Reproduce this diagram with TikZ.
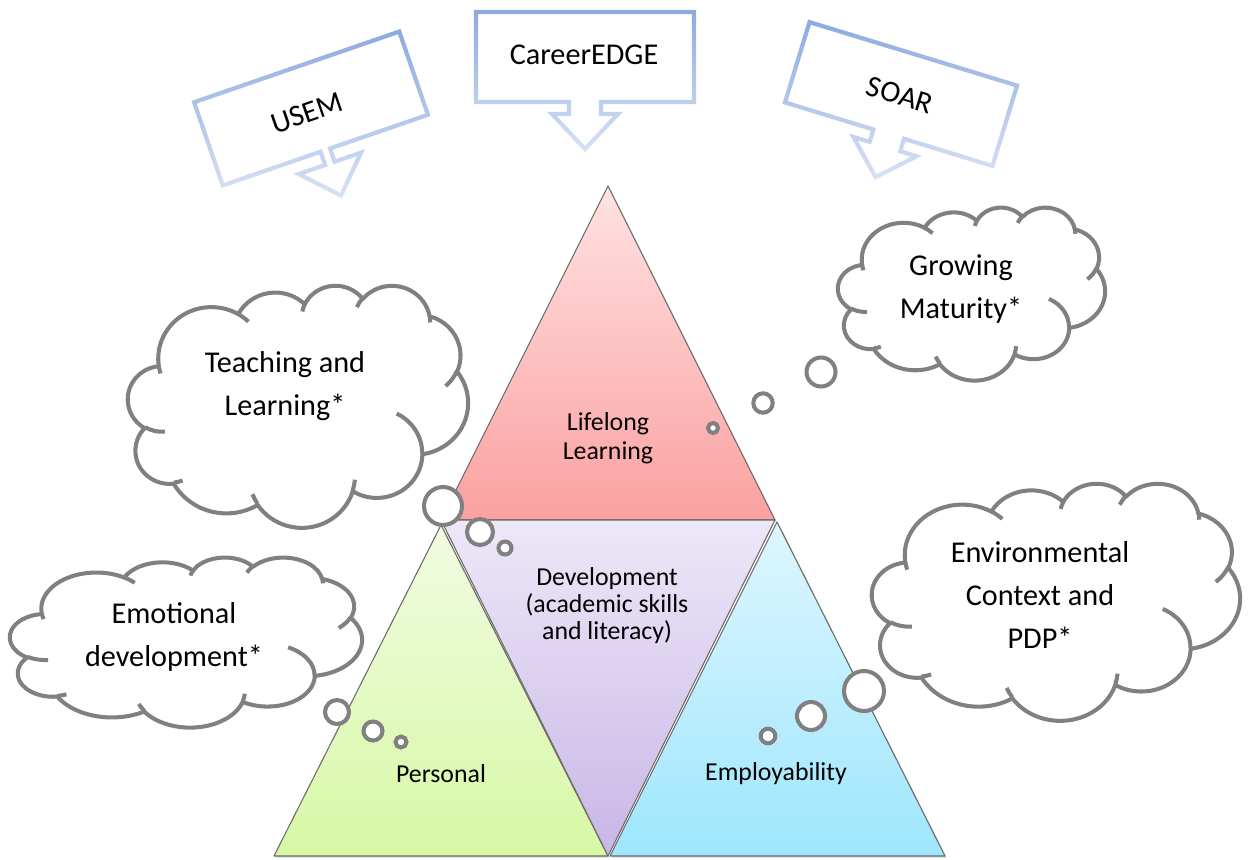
\documentclass[tikz,border=0pt]{standalone}
\usepackage{fontspec}
\setmainfont{Carlito}
\definecolor{cloudgray}{RGB}{128,128,128}
\definecolor{trioutline}{RGB}{105,105,105}
\definecolor{llTop}{RGB}{255,226,226}
\definecolor{llBot}{RGB}{251,160,160}
\definecolor{dvTop}{RGB}{237,232,248}
\definecolor{dvBot}{RGB}{200,182,230}
\definecolor{psTop}{RGB}{241,251,226}
\definecolor{psBot}{RGB}{215,248,165}
\definecolor{emTop}{RGB}{222,246,255}
\definecolor{emBot}{RGB}{158,230,252}
\definecolor{coTop}{RGB}{141,170,223}
\definecolor{coBot}{RGB}{216,226,244}

% Office cloud arcs: visual angles -> parametric angles
\newcommand\mkcloudarc[5]{%
  \pgfmathsetmacro\oA{#4}%
  \pgfmathsetmacro\oB{#4+#5}%
  \pgfmathsetmacro\oTa{atan2(#2*sin(\oA),#3*cos(\oA))}%
  \pgfmathsetmacro\oTa{\oTa+360*round((\oA-\oTa)/360)}%
  \pgfmathsetmacro\oTb{atan2(#2*sin(\oB),#3*cos(\oB))}%
  \pgfmathsetmacro\oTb{\oTb+360*round((\oB-\oTb)/360)}%
  \expandafter\xdef\csname cloudarc#1\endcsname{arc[start angle=\oTa, end angle=\oTb, x radius=#2, y radius=#3]}%
}
\mkcloudarc{A}{6.753}{9.190}{-190.48748}{123.78053}
\mkcloudarc{B}{5.333}{7.267}{-144.10238}{89.94523}
\mkcloudarc{C}{4.365}{5.945}{-145.80792}{99.72302}
\mkcloudarc{D}{4.857}{6.595}{-130.98607}{117.24173}
\mkcloudarc{E}{5.333}{7.273}{-78.70888}{109.02692}
\mkcloudarc{F}{6.775}{9.220}{-46.26725}{130.269}
\mkcloudarc{G}{5.785}{7.867}{0.62502}{114.03333}
\mkcloudarc{H}{6.752}{9.215}{22.4516}{115.17255}
\mkcloudarc{I}{7.720}{10.543}{66.24263}{75.71102}
\mkcloudarc{J}{4.360}{5.918}{-274.94208}{146.73557}
\mkcloudarc{K}{4.345}{5.945}{-246.8285}{152.51885}
\mkcloudarc{a}{4.345}{5.945}{86.742}{26.4295}
\mkcloudarc{b}{4.360}{5.918}{73.61047}{11.44747}
\mkcloudarc{c}{6.752}{9.215}{137.62415}{14.0811}
\mkcloudarc{d}{6.752}{9.215}{6.45327}{15.99835}
\mkcloudarc{e}{5.785}{7.867}{-70.29235}{70.91737}
\mkcloudarc{f}{5.333}{7.273}{30.31803}{27.7515}
\mkcloudarc{g}{4.857}{6.595}{-13.74433}{14.8589}
\mkcloudarc{h}{4.857}{6.595}{-149.18145}{18.19537}
\mkcloudarc{i}{4.365}{5.945}{-163.49427}{17.68635}
\mkcloudarc{j}{6.753}{9.190}{-66.70695}{12.31935}
\mkcloudarc{k}{6.753}{9.190}{157.65435}{11.85817}

\newcommand\cloudoutline{(3.9,14.37) \cloudarcA \cloudarcB \cloudarcC \cloudarcD \cloudarcE \cloudarcF \cloudarcG \cloudarcH \cloudarcI \cloudarcJ \cloudarcK -- cycle}
\newcommand\cloudinner{(4.693,26.177) \cloudarca (6.928,34.899) \cloudarcb (16.478,39.09) \cloudarcc (28.827,34.751) \cloudarcd (34.129,22.954) \cloudarce (41.798,15.354) \cloudarcf (38.324,5.426) \cloudarcg (29.078,3.952) \cloudarch (22.141,4.72) \cloudarci (14,5.192) \cloudarcj (4.127,15.789) \cloudarck}

\newcommand\drawcloud[4]{%
  \pgfmathsetmacro\cux{#3*0.02/43.2}%
  \pgfmathsetmacro\cuy{#4*0.02/43.2}%
  \begin{scope}[shift={(#1,#2)}, x=\cux cm, y=-\cuy cm]
    \filldraw[cloudline, fill=white] \cloudoutline;
    \draw[cloudline] \cloudinner;
  \end{scope}%
}

% down arrow callout, offset outline by #1
\newcommand\cpoly[1]{({-\cHw-(#1)},{-\cHh-(#1)}) -- ({\cHw+(#1)},{-\cHh-(#1)}) -- ({\cHw+(#1)},{\cHh+(#1)}) -- ({\cS+(#1)},{\cHh+(#1)}) -- ({\cS+(#1)},{\cYh-(#1)}) -- ({\cA+(#1)*(\cEl+\cA)/\cL},{\cYh-(#1)}) -- (0,{\cYt+(#1)*\cEl/\cA}) -- ({-\cA-(#1)*(\cEl+\cA)/\cL},{\cYh-(#1)}) -- ({-\cS-(#1)},{\cYh-(#1)}) -- ({-\cS-(#1)},{\cHh+(#1)}) -- ({-\cHw-(#1)},{\cHh+(#1)}) -- cycle}

\newcommand\arrowcallout[9]{%
  \begin{scope}[shift={(#1,#2)}, rotate=#3]
    \pgfmathsetmacro\cHw{#4/2}\pgfmathsetmacro\cHh{#5/2}%
    \def\cS{#6}\def\cA{#8}\def\cL{#9}%
    \pgfmathsetmacro\cYh{\cHh+#7}\pgfmathsetmacro\cYt{\cYh+#9}%
    \pgfmathsetmacro\cEl{sqrt(#8*#8+#9*#9)}%
    \fill[white] \cpoly{0};
    \shade[top color=coTop, bottom color=coBot, even odd rule] \cpoly{2.1} \cpoly{-2.1};
  \end{scope}%
}

\tikzset{
  cloudline/.style={draw=cloudgray, line width=2.3pt, line join=round},
  bubble/.style={draw=cloudgray, line width=2.3pt, fill=white},
  tri/.style={draw=trioutline, line width=0.6pt, line join=round},
  trishadow/.style={fill=black, opacity=0.12},
  cloudtext/.style={font=\fontsize{17.2}{24.4}\selectfont, align=center, inner sep=0pt},
  tritext/.style={font=\fontsize{14.7}{15.4}\selectfont, align=center, inner sep=0pt},
}

\begin{document}
\begin{tikzpicture}[x=0.02cm, y=-0.02cm]
\useasboundingbox (0,0) rectangle (1250,859);

% soft shadows of the triangles
\fill[trishadow] (610,188) -- (777,522) -- (443,522) -- cycle;
\fill[trishadow] (443,527) -- (610,858) -- (276,858) -- cycle;
\fill[trishadow] (779,524) -- (947,858) -- (612,858) -- cycle;

% triangles
\shade[tri, top color=llTop, bottom color=llBot] (608,186) -- (775,520) -- (441,520) -- cycle;
\shade[tri, top color=psTop, bottom color=psBot] (441,525) -- (608,856) -- (274,856) -- cycle;
\shade[tri, top color=dvTop, bottom color=dvBot] (441,520) -- (775,520) -- (608,856) -- cycle;
\shade[tri, top color=emTop, bottom color=emBot] (777,522) -- (945,856) -- (610,856) -- cycle;

\node[tritext, font=\fontsize{14.7}{16.4}\selectfont] (lifelong) at (608,438) {Lifelong\\Learning};
\node[tritext] (development) at (607,606) {Development\\(academic skills\\and literacy)};
\node[tritext] (personal) at (441,774) {Personal};
\node[tritext] (employability) at (776,774) {Employability};

% clouds
\drawcloud{128}{285}{340}{242}
\drawcloud{838}{207}{267}{173}
\drawcloud{10}{557}{352}{170}
\drawcloud{872}{483}{368}{237}

\node[cloudtext] (teaching) at (285,386) {Teaching and\\Learning*};
\node[cloudtext] (growing) at (961,289) {Growing\\Maturity*};
\node[cloudtext] (emotional) at (174,637) {Emotional\\development*};
\node[cloudtext] (environmental) at (1040,595) {Environmental\\Context and\\PDP*};

% thought bubbles
\draw[bubble] (443,506) circle[radius=19];
\draw[bubble] (480,532) circle[radius=13];
\draw[bubble] (505,548) circle[radius=6.5];
\draw[bubble] (821,372) circle[radius=14.5];
\draw[bubble] (763,403) circle[radius=9.7];
\draw[bubble] (713,428) circle[radius=5];
\draw[bubble] (337,712) circle[radius=12];
\draw[bubble] (373,731) circle[radius=9.5];
\draw[bubble] (401,742) circle[radius=5.5];
\draw[bubble] (864,691) circle[radius=20];
\draw[bubble] (811,716) circle[radius=14];
\draw[bubble] (768,736) circle[radius=7.3];

% arrow callouts
\arrowcallout{585}{57}{0}{218}{90}{16}{12}{33}{35}
\arrowcallout{311}{108.5}{19}{217}{88}{5}{14}{33}{34}
\arrowcallout{901}{94}{-17}{217}{84}{16}{13}{33}{32}

\node[cloudtext] (careeredge) at (584,55) {CareerEDGE};
\node[cloudtext, rotate=19] (usem) at (307,113) {USEM};
\node[cloudtext, rotate=-17] (soar) at (900,95) {SOAR};
\end{tikzpicture}
\end{document}
